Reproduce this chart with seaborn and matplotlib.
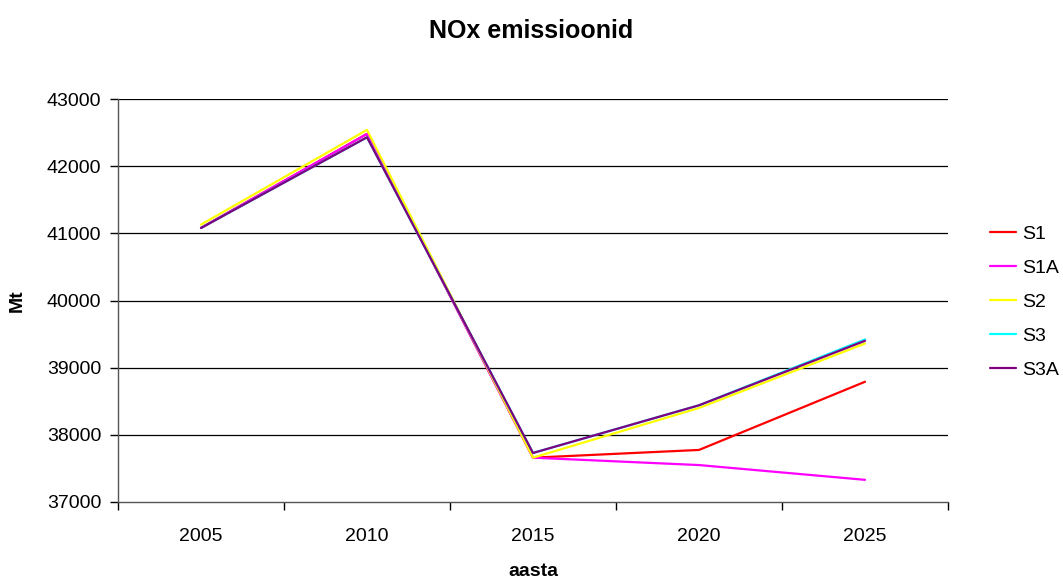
import matplotlib
matplotlib.use("Agg")
import matplotlib.pyplot as plt
import seaborn as sns
import pandas as pd

years = ["2005", "2010", "2015", "2020", "2025"]
S1 = [41080, 42480, 37660, 37775, 38790]
S1A = [41080, 42480, 37660, 37550, 37330]
S2 = [41130, 42540, 37660, 38400, 39360]
S3 = [41080, 42430, 37730, 38440, 39420]
S3A = [41080, 42430, 37730, 38440, 39400]
series = {"S1": S1, "S1A": S1A, "S2": S2, "S3": S3, "S3A": S3A}
colors = {"S1": "#FF0000", "S1A": "#FF00FF", "S2": "#FFFF00", "S3": "#00FFFF", "S3A": "#800080"}
yticks = [37000, 38000, 39000, 40000, 41000, 42000, 43000]

rows = []
for name, vals in series.items():
    for yr, v in zip(years, vals):
        rows.append({"aasta": yr, "Mt": v, "series": name})
df = pd.DataFrame(rows)

sns.set_theme(style="white")
plt.rcParams["font.family"] = ["Liberation Sans", "DejaVu Sans"]
plt.rcParams["text.color"] = "black"
plt.rcParams["xtick.color"] = "black"
plt.rcParams["ytick.color"] = "black"
plt.rcParams["axes.labelcolor"] = "black"

fig = plt.figure(figsize=(10.63, 5.83), dpi=100)
ax = fig.add_axes([118/1063, 1-502/583, (948-118)/1063, (502-99)/583])

sns.lineplot(data=df, x="aasta", y="Mt", hue="series", palette=colors,
             sort=False, linewidth=1.6, ax=ax, legend=True)

ax.set_xlim(-0.5, 4.5)
ax.set_ylim(37000, 43000)
ax.set_yticks(yticks)
ax.set_yticklabels([str(t) for t in yticks], fontsize=14)
ax.set_xticks(range(len(years)))
ax.set_xticklabels(years, fontsize=14)
ax.tick_params(axis="x", length=0, pad=19)
ax.tick_params(axis="y", length=6, width=1, direction="out", color="black", left=True, pad=6)
ax.set_xticks([i - 0.5 for i in range(len(years) + 1)], minor=True)
ax.tick_params(axis="x", which="minor", length=6, width=1, direction="out", color="black", bottom=True)
for yv in yticks[1:]:
    ax.axhline(yv, color="black", linewidth=0.9, zorder=0)
for side in ["top", "right"]:
    ax.spines[side].set_visible(False)
for side in ["left", "bottom"]:
    ax.spines[side].set_color("#555555")
    ax.spines[side].set_linewidth(1.0)

ax.set_xlabel("aasta", fontsize=14, fontweight="bold", labelpad=13)
ax.set_ylabel("Mt", fontsize=14, fontweight="bold", labelpad=15)
fig.suptitle("NOx emissioonid", fontsize=18, fontweight="bold", y=1-31/583, va="center")

leg = ax.legend(loc="center left", bbox_to_anchor=(990/1063, 1-302/583), bbox_transform=fig.transFigure,
                frameon=False, fontsize=14, handlelength=1.35, handletextpad=0.3,
                labelspacing=0.84, borderpad=0, borderaxespad=0)
leg.set_title(None)

fig.savefig("out.png", dpi=100)
